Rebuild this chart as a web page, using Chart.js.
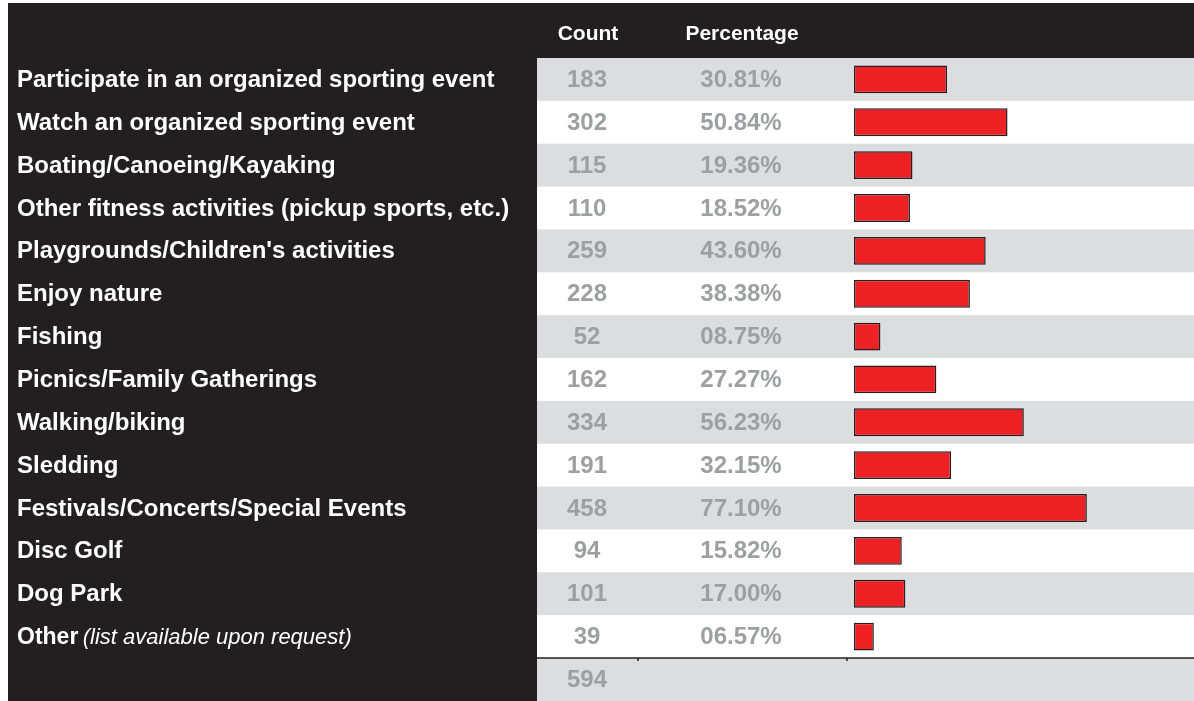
<!DOCTYPE html>
<html>
<head>
<meta charset="utf-8">
<script src="https://cdn.jsdelivr.net/npm/chart.js@4/dist/chart.umd.min.js"></script>
<style>
  html, body { margin: 0; padding: 0; background: #fff; }
  #wrap { width: 1194px; height: 701px; }
</style>
</head>
<body>
<div id="wrap"><canvas id="activityChart" width="1194" height="701"></canvas></div>
<script>
// survey data
var activities = [
  "Participate in an organized sporting event",
  "Watch an organized sporting event",
  "Boating/Canoeing/Kayaking",
  "Other fitness activities (pickup sports, etc.)",
  "Playgrounds/Children's activities",
  "Enjoy nature",
  "Fishing",
  "Picnics/Family Gatherings",
  "Walking/biking",
  "Sledding",
  "Festivals/Concerts/Special Events",
  "Disc Golf",
  "Dog Park",
  "Other"
];
var counts = [183, 302, 115, 110, 259, 228, 52, 162, 334, 191, 458, 94, 101, 39];
var percents = [30.81, 50.84, 19.36, 18.52, 43.60, 38.38, 8.75, 27.27, 56.23, 32.15, 77.10, 15.82, 17.00, 6.57];
var totalCount = 594;
var otherNote = "(list available upon request)";

var DARK = "#231f20";
var STRIPE = "#dcdddf";
var GREYTXT = "#9d9fa2";
var FONT = "'Liberation Sans', Arial, sans-serif";

function pad2(v) {
  var s = v.toFixed(2);
  return (v < 10 ? "0" : "") + s + "%";
}

// table background, stripes, labels, counts and percentages
var tablePlugin = {
  id: 'tablePlugin',
  beforeDatasetsDraw: function(chart) {
    var ctx = chart.ctx;
    var y = chart.scales.y;
    var W = chart.width, H = chart.height;
    var half = (y.getPixelForValue(1) - y.getPixelForValue(0)) / 2;
    var rowsTop = y.getPixelForValue(0) - half;
    var rowsBottom = y.getPixelForValue(activities.length - 1) + half;
    ctx.save();
    ctx.fillStyle = "#fff";
    ctx.fillRect(0, 0, W, H);
    // header band + left panel
    ctx.fillStyle = DARK;
    ctx.fillRect(8, 3, W - 8, rowsTop - 3);
    ctx.fillRect(8, 3, 529, H - 3);
    // stripes
    ctx.fillStyle = STRIPE;
    for (var i = 0; i < activities.length; i += 2) {
      var c = y.getPixelForValue(i);
      ctx.fillRect(537, c - half, W - 537, half * 2);
    }
    ctx.fillRect(537, rowsBottom, W - 537, H - rowsBottom);
    // total separator
    ctx.strokeStyle = DARK;
    ctx.lineWidth = 1.5;
    ctx.beginPath();
    ctx.moveTo(537, rowsBottom);
    ctx.lineTo(W, rowsBottom);
    ctx.moveTo(638, rowsBottom);
    ctx.lineTo(638, rowsBottom + 3);
    ctx.moveTo(847, rowsBottom);
    ctx.lineTo(847, rowsBottom + 3);
    ctx.stroke();
    // headers
    ctx.fillStyle = "#fff";
    ctx.textAlign = "center";
    ctx.textBaseline = "middle";
    ctx.font = "bold 21px " + FONT;
    ctx.fillText("Count", 588, 34);
    ctx.fillText("Percentage", 742, 34);
    // rows
    for (var j = 0; j < activities.length; j++) {
      var cy = y.getPixelForValue(j) + 1;
      var last = j === activities.length - 1;
      ctx.textAlign = "left";
      ctx.fillStyle = "#fff";
      ctx.font = "bold " + (last ? 23 : 24) + "px " + FONT;
      ctx.fillText(activities[j], 17, cy);
      if (last) {
        var w = ctx.measureText(activities[j] + " ").width;
        ctx.font = "italic 22px " + FONT;
        ctx.fillText(otherNote, 15 + w, cy);
      }
      ctx.textAlign = "center";
      ctx.fillStyle = GREYTXT;
      ctx.font = "bold 24px " + FONT;
      ctx.fillText(String(counts[j]), 587, cy);
      ctx.fillText(pad2(percents[j]), 741, cy);
    }
    ctx.fillText(String(totalCount), 587, (rowsBottom + H) / 2 + 1);
    ctx.restore();
  }
};

var ctxB = document.getElementById("activityChart").getContext('2d');
var myBarChart = new Chart(ctxB, {
  type: 'bar',
  data: {
    labels: activities,
    datasets: [
      {
        label: "Percentage",
        data: percents,
        backgroundColor: "#ed2024",
        borderColor: DARK,
        borderWidth: 1.5,
        borderSkipped: false,
        categoryPercentage: 1,
        barPercentage: 0.65
      }
    ]
  },
  options: {
    indexAxis: 'y',
    responsive: false,
    animation: false,
    layout: { padding: { left: 854, right: 38, top: 58, bottom: 43 } },
    plugins: { legend: { display: false }, tooltip: { enabled: false } },
    scales: {
      x: { display: false, min: 0, max: 100 },
      y: { display: false }
    }
  },
  plugins: [tablePlugin]
});
</script>
</body>
</html>
